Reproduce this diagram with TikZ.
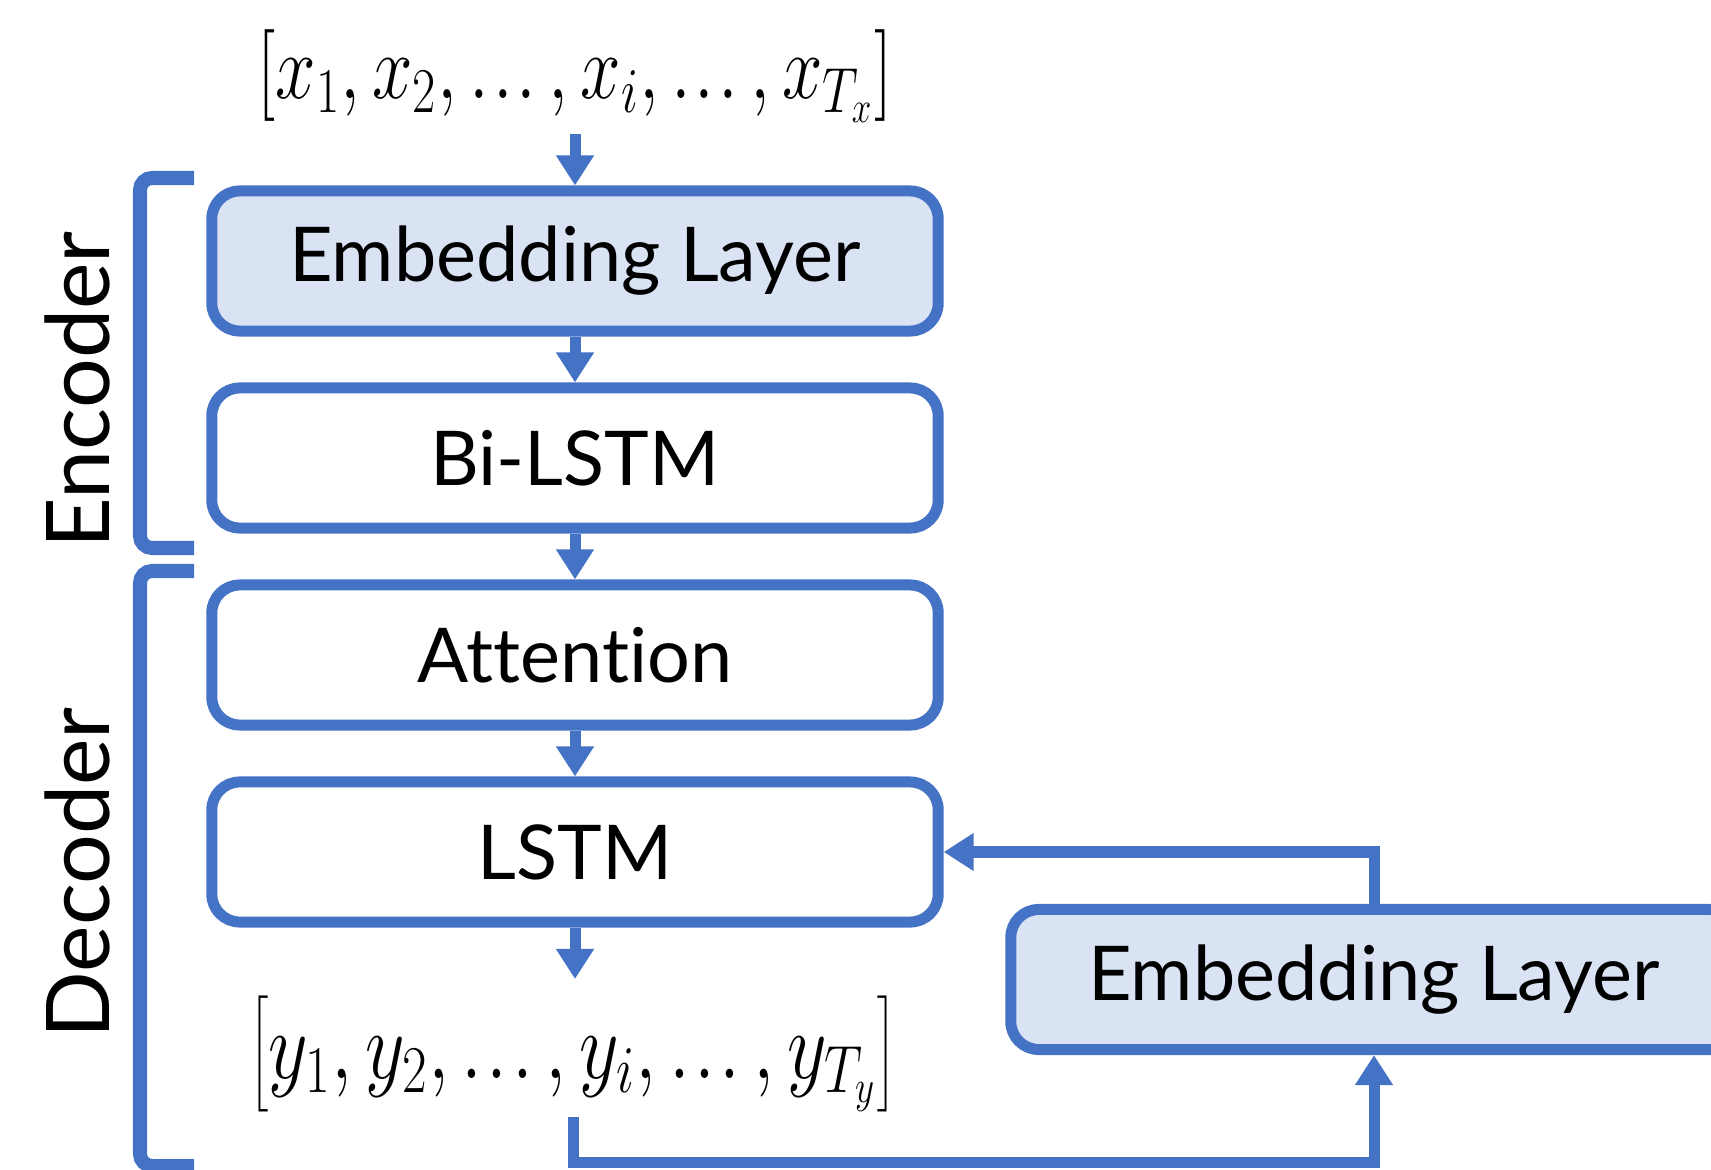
\documentclass[tikz,border=0pt]{standalone}
\usepackage[no-math]{fontspec}
\usepackage{graphicx}
\newfontfamily\labelfont[Ligatures=NoCommon]{Lato}
\usetikzlibrary{arrows.meta}
\definecolor{ublue}{HTML}{4472C4}
\definecolor{ufill}{HTML}{DAE3F3}
\newcommand{\tdots}{\mathinner{.\kern0.06em.\kern0.06em.}}
\begin{document}
\begin{tikzpicture}[x=0.01cm,y=-0.01cm,
  blk/.style={draw=ublue, line width=0.11cm, rounded corners=0.28cm, minimum width=7.26cm, minimum height=1.40cm, inner sep=0pt, font=\labelfont\fontsize{21.5}{25}\selectfont},
  emb/.style={blk, fill=ufill},
  arr/.style={draw=ublue, line width=0.11cm, -{Triangle[width=0.36cm,length=0.30cm]}},
  brk/.style={draw=ublue, line width=0.14cm, rounded corners=0.12cm},
  side/.style={rotate=90, anchor=base, font=\labelfont\fontsize{25}{30}\selectfont},
  mathtxt/.style={font=\fontsize{23}{28}\selectfont, inner sep=0pt}
]
\useasboundingbox (0,0) rectangle (1711,1170);
\node[emb] (b1) at (575,261) {Embedding Layer};
\node[blk] (b2) at (575,458) {Bi-LSTM};
\node[blk] (b3) at (575,655) {Attention};
\node[blk] (b4) at (575,852) {LSTM};
\node[emb] (b5) at (1374,979.5) {Embedding Layer};
\node[mathtxt, xscale=0.83, yscale=1.05] (xs) at (575,76) {$\left[x_1, x_2, \tdots, x_i, \tdots, x_{T_x}\right]$};
\node[mathtxt, xscale=0.88, yscale=1.1] (ys) at (573,1054) {$\left[y_1, y_2, \tdots, y_i, \tdots, y_{T_y}\right]$};
\coordinate (xa) at (575,134);
\coordinate (ya) at (575,979);
\coordinate (yb) at (573,1117);
\coordinate (yc) at (573,1162);
\draw[arr] (xa) -- (b1.north);
\draw[arr] (b1.south) -- (b2.north);
\draw[arr] (b2.south) -- (b3.north);
\draw[arr] (b3.south) -- (b4.north);
\draw[arr] (b4.south) -- (ya);
\draw[arr] (yb) -- (yc) -| (b5.south);
\draw[arr] (b5.north) |- (b4.east);
\draw[brk] (194,178) -- (140,178) -- (140,548) -- (194,548);
\draw[brk] (194,571) -- (140,571) -- (140,1166) -- (194,1166);
\node[side] (enc) at (109,390) {Encoder};
\node[side] (dec) at (109,873) {Decoder};
\end{tikzpicture}
\end{document}
